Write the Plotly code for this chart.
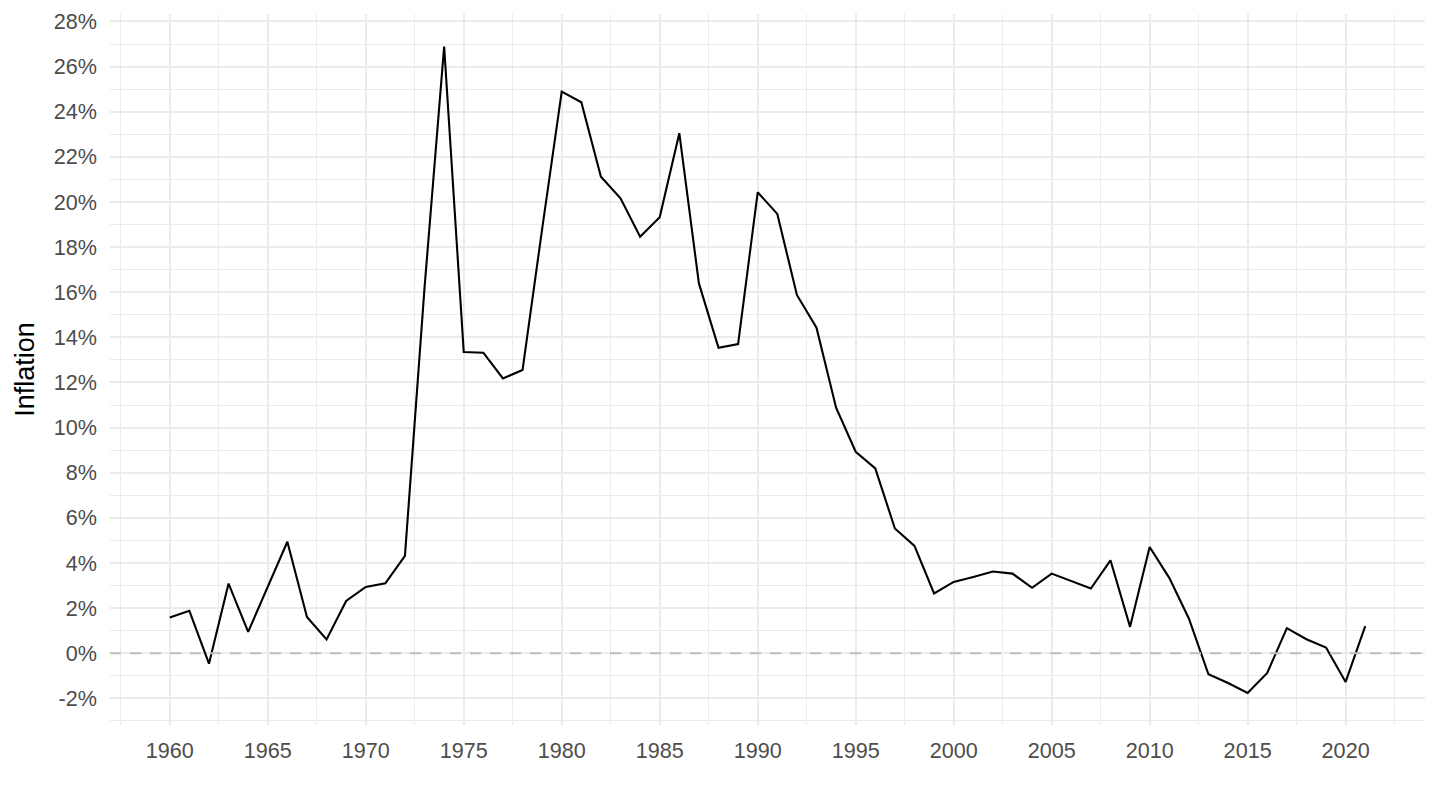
import plotly.graph_objects as go

years = list(range(1960, 2022))
inflation = [
    1.58, 1.88, -0.46, 3.09, 0.95, 2.94, 4.94, 1.61, 0.61, 2.32,
    2.94, 3.10, 4.32, 16.2, 26.89, 13.35, 13.32, 12.18, 12.55, 18.8,
    24.89, 24.42, 21.12, 20.16, 18.46, 19.32, 23.05, 16.39, 13.54, 13.70,
    20.43, 19.47, 15.88, 14.43, 10.88, 8.93, 8.19, 5.53, 4.76, 2.65,
    3.16, 3.38, 3.62, 3.53, 2.90, 3.53, 3.19, 2.87, 4.12, 1.17,
    4.71, 3.34, 1.54, -0.93, -1.32, -1.76, -0.87, 1.11, 0.62, 0.25,
    -1.27, 1.20,
]

x_ticks = list(range(1960, 2021, 5))
y_ticks = list(range(-2, 29, 2))
y_labels = [f"{v}%" for v in y_ticks]

FONT = "Liberation Sans, Arial, sans-serif"
TICK_GREY = "#4D4D4D"
GRID = "#EBEBEB"

fig = go.Figure()
fig.add_trace(
    go.Scatter(
        x=years,
        y=inflation,
        mode="lines",
        line=dict(color="black", width=2.1),
        showlegend=False,
        hoverinfo="x+y",
    )
)

# dashed zero reference
fig.add_hline(y=0, line=dict(color="#BEBEBE", width=2, dash="11px,9px"))

# page body has an 8px default margin, so the margins are shifted to suit
fig.update_layout(
    width=1440,
    height=810,
    paper_bgcolor="white",
    plot_bgcolor="white",
    margin=dict(l=102, r=23, t=6, b=93),
    font=dict(family=FONT, color=TICK_GREY, size=21.6),
)

fig.update_xaxes(
    range=[1956.95, 2024.05],
    tickvals=x_ticks,
    ticktext=[str(y) for y in x_ticks],
    automargin=False,
    showline=False,
    zeroline=False,
    showgrid=True,
    gridcolor=GRID,
    gridwidth=2,
    ticks="",
    ticklabelstandoff=10,
    tickfont=dict(size=21.6, color=TICK_GREY),
    minor=dict(dtick=2.5, tick0=1957.5, showgrid=True, gridcolor=GRID, gridwidth=1),
)

fig.update_yaxes(
    range=[-3.18, 28.33],
    tickvals=y_ticks,
    ticktext=y_labels,
    automargin=False,
    showline=False,
    zeroline=False,
    showgrid=True,
    gridcolor=GRID,
    gridwidth=2,
    ticks="",
    ticklabelstandoff=12,
    tickfont=dict(size=21.6, color=TICK_GREY),
    minor=dict(dtick=1, tick0=-3, showgrid=True, gridcolor=GRID, gridwidth=1),
    title=dict(text="Inflation", font=dict(size=27, color="black"), standoff=11),
)

fig.write_html("out.html")
